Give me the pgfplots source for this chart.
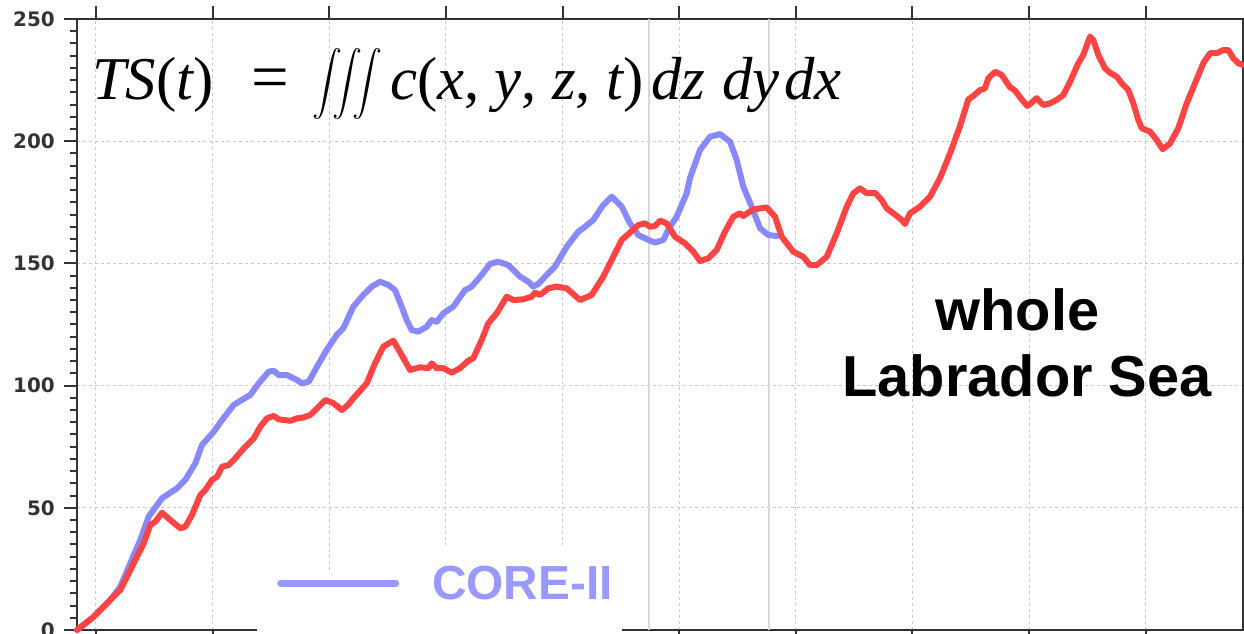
\documentclass[border=0pt]{standalone}
\usepackage{fontspec}
\usepackage{amsmath}
\usepackage{graphicx}
\usepackage{pgfplots}
\pgfplotsset{compat=1.18}
\newfontfamily\dvs{DejaVu Sans}
\newfontfamily\lsans{Liberation Sans}
\newfontfamily\lserif{Liberation Serif}
\definecolor{axgray}{RGB}{51,51,51}
\definecolor{gridgray}{RGB}{200,200,200}
\definecolor{vgray}{RGB}{215,215,215}
\definecolor{redline}{RGB}{255,68,68}
\definecolor{blueline}{RGB}{136,136,255}
\definecolor{coretext}{RGB}{153,153,255}
\newcommand\fml{\lserif\fontsize{61}{63}\selectfont\itshape}
\begin{document}
\begin{tikzpicture}
\begin{axis}[
  at={(0,0)}, anchor=south west,
  scale only axis, width=1166bp, height=611bp,
  xmin=77, xmax=1243, ymin=0, ymax=250,
  xtick={96,212.6,329.3,445.9,562.5,679.2,795.8,912.4,1029.0,1145.7},
  xticklabels={},
  xtick pos=both, ytick pos=left,
  ytick={0,50,100,150,200,250},
  minor y tick num=9,
  tick align=outside,
  major tick length=13bp, minor tick length=7bp,
  every tick/.style={draw=axgray, line width=2bp},
  axis line style={draw=axgray, line width=2bp},
  grid=major,
  major grid style={draw=gridgray, line width=1bp, dash pattern=on 3bp off 3bp},
  yticklabel style={font=\dvs\bfseries\fontsize{20}{22}\selectfont, text=axgray, anchor=east, inner sep=0pt, xshift=-9bp},
  /pgf/number format/assume math mode=true,
  clip=false,
  legend style={at={(axis cs:257,19.2)}, anchor=west, draw=none, fill=none,
    font=\lsans\bfseries\fontsize{48}{50}\selectfont, text=coretext,
    inner xsep=20bp, inner ysep=4bp},
  legend image code/.code={\draw[line width=7bp, draw=coretext] (0bp,0bp) -- (115bp,0bp);},
]
\draw[color=vgray, line width=1.5bp] (axis cs:649,0) -- (axis cs:649,250);
\draw[color=vgray, line width=1.5bp] (axis cs:769,0) -- (axis cs:769,250);

\addplot[color=blueline, line width=6bp, line join=round, line cap=round] coordinates {
(77,0) (93.7,5.4) (110.3,12.3) (120.3,17.7) (130.3,27.3) (140.3,36.8) (148.7,46.4)
(162,53.9) (177,58.0) (185.3,61.4) (195.3,68.2) (202,75.7) (213.7,81.1) (222,85.9)
(233.7,92.1) (250.3,96.2) (258.7,100.9) (268.7,105.7) (273.7,106.1) (278.7,104.3)
(287,104.3) (297,102.3) (302,100.9) (308.7,101.6) (317,107.7) (326.7,114.6)
(336.7,120.7) (343.3,123.4) (353.3,132.3) (363.3,137.1) (371.7,140.5) (380,142.5)
(388.3,141.2) (395,139.1) (401.7,132.3) (406.7,126.8) (411.7,122.7) (418.3,122.1)
(426.7,124.1) (431.7,126.8) (436.7,126.1) (443.3,129.6) (453.3,132.3) (465,139.1)
(471.7,140.5) (481.7,145.3) (490,149.8) (498.3,150.7) (508.3,149.3) (520,144.6)
(528.3,142.5) (533.3,140.5) (538.3,141.6) (546.7,145.3) (555,148.7) (566.7,156.8)
(578.3,163.0) (583.3,164.4) (593.3,167.8) (603.3,173.9) (611.7,177.3) (621.7,173.2)
(630,166.4) (638.3,161.6) (648.3,159.6) (655,158.5) (663.3,159.6) (670,165.0)
(676.7,169.1) (686.7,178.7) (690,185.0) (700,196.4) (710,201.8) (720,202.9)
(730,199.8) (736.7,192.3) (743.3,181.4) (751.7,173.2) (760,164.4) (768.3,161.6)
(776.7,161.2)
};
\addlegendentry{\hspace*{31bp}CORE-II}

\addplot[color=redline, line width=6bp, line join=round, line cap=round, forget plot] coordinates {
(77,0) (93.7,5.4) (110.3,12.3) (120.3,16.4) (130.3,24.5) (143.7,35.5) (150.3,43.0)
(155.3,44.3) (162,48.0) (170.3,45.0) (180.3,41.6) (185.3,42.3) (192,47.1) (200.3,55.2)
(205.3,57.3) (212,61.4) (217,62.7) (222,66.8) (228.7,67.5) (235.3,70.3) (243.7,74.3)
(253.7,78.4) (260.3,83.2) (267,86.6) (273.7,87.6) (278.7,86.2) (290.3,85.6) (297,86.6)
(303.7,87.0) (310.3,88.0) (317,90.7) (325.3,94.1) (333,92.9) (342,90.0) (348,92.1)
(353.3,94.8) (366.7,100.9) (375,109.1) (383.3,115.9) (393.3,118.4) (401.7,112.5)
(410,106.4) (420,107.5) (428.3,107.1) (431.7,109.1) (436.7,107.1) (443.3,107.1)
(451.7,105.3) (460,107.1) (468.3,110.2) (473.3,111.2) (481.7,118.7) (488.3,125.5)
(496.7,129.6) (506.7,136.4) (513.3,135.0) (523.3,135.3) (531.7,136.4) (535,138.0)
(540,137.1) (548.3,139.8) (556.7,140.5) (566.7,139.8) (571.7,138.0) (580,135.0)
(591.7,137.1) (603.3,144.6) (613.3,152.7) (621.7,159.6) (630,162.6) (638.3,165.7)
(645,166.4) (650,165.0) (655,165.3) (660,167.5) (666.7,166.4) (675,160.9) (685,158.2)
(693.3,154.8) (700,151.0) (708.3,152.1) (716.7,155.5) (725,163.0) (733.3,169.1)
(740,170.5) (743.3,169.4) (753.3,172.1) (766.7,172.9) (775,169.1) (781.7,160.9)
(793.3,154.8) (803.3,152.7) (810,149.3) (816.7,149.3) (826.7,152.7) (836.7,162.3)
(846.7,173.2) (853.3,178.7) (860,180.7) (866.7,178.7) (875,178.9) (881.7,175.9)
(886.7,172.5) (893.3,170.5) (901.7,167.8) (905,166.1) (910,170.5) (920,173.2)
(930,177.3) (940,184.9) (950,195.0) (960,206.2) (968.3,217.1) (973.3,218.5)
(980,220.9) (985,221.6) (988.3,225.7) (995,228.4) (1001.7,227.1) (1010,222.1)
(1015,220.7) (1021.7,217.1) (1027.3,214.4) (1031.7,215.8) (1036.7,217.6) (1043.3,214.8)
(1050,215.5) (1056.7,216.9) (1063.3,218.9) (1070,224.3) (1078.3,231.9) (1083.3,235.3)
(1090,242.8) (1093.3,241.4) (1098.3,235.3) (1105,229.8) (1110,228.0) (1116.7,226.4)
(1121.7,223.7) (1128.3,220.9) (1133.3,215.5) (1138.3,208.7) (1141.7,205.3) (1150,203.9)
(1156.7,200.5) (1162.7,196.7) (1170,199.1) (1178.3,205.3) (1186.7,215.5) (1195,223.7)
(1203.3,231.9) (1210,236.0) (1216.7,236.0) (1223.3,237.3) (1228.3,237.3) (1233.3,233.9)
(1238.3,231.9) (1243,231.2)
};

\fill[white] (axis cs:257,-5) rectangle (axis cs:410,24.3);
\fill[white] (axis cs:410,-5) rectangle (axis cs:622,34.8);

\node[anchor=base west, inner sep=0pt] at (axis cs:92,216.9) {\fml TS\upshape(\itshape t\upshape)};
\node[anchor=base west, inner sep=0pt] at (axis cs:251,216.9) {\lserif\fontsize{67}{69}\selectfont =};
\node[anchor=north west, inner sep=0pt] at (axis cs:312,238.1) {\resizebox*{70bp}{71bp}{$\displaystyle\iiint$}};
\node[anchor=base west, inner sep=0pt] at (axis cs:390,216.9) {\fml c\upshape(\itshape x\upshape, \itshape y\upshape, \itshape z\upshape, \itshape t\upshape)};
\node[anchor=base west, inner sep=0pt] at (axis cs:651,216.9) {\fml dz};
\node[anchor=base west, inner sep=0pt] at (axis cs:722,216.9) {\fml dy};
\node[anchor=base west, inner sep=0pt] at (axis cs:784,216.9) {\fml dx};
\node[anchor=base, inner sep=0pt] at (axis cs:1017.5,122.7)
  {\lsans\bfseries\fontsize{58}{60}\selectfont whole};
\node[anchor=base, inner sep=0pt] at (axis cs:1027,95.7)
  {\lsans\bfseries\fontsize{58}{60}\selectfont Labrador Sea};
\end{axis}
\pgfresetboundingbox
\path[use as bounding box] (-77bp,-4bp) rectangle (1167bp,630bp);
\end{tikzpicture}
\end{document}
